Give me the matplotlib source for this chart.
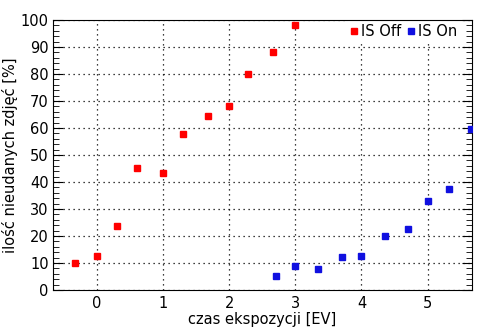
import matplotlib
matplotlib.use("Agg")
import matplotlib.pyplot as plt
from matplotlib.ticker import MultipleLocator

# IS Off
off_x = [-0.33, 0, 0.31, 0.61, 1, 1.3, 1.68, 2, 2.29, 2.66, 3]
off_y = [9.9, 12.5, 23.6, 45.2, 43.3, 57.8, 64.5, 68.2, 80.1, 88.2, 98.3]
# IS On
on_x = [2.71, 3, 3.34, 3.71, 4, 4.36, 4.7, 5, 5.32, 5.65]
on_y = [5.1, 8.8, 7.7, 12.1, 12.5, 19.9, 22.5, 32.9, 37.4, 59.7]

fig = plt.figure(figsize=(4.94, 3.31), dpi=100)
ax = fig.add_axes([0.1073, 0.1239, 0.8482, 0.8157])

ax.plot(off_x, off_y, 's', color='#ff0000', markersize=4.5, label='IS Off', zorder=3)
ax.plot(on_x, on_y, 's', color='#1010e0', markersize=4.5, label='IS On', zorder=3)

ax.set_xlim(-0.66, 5.67)
ax.set_ylim(0, 100)
ax.xaxis.set_major_locator(MultipleLocator(1))
ax.yaxis.set_major_locator(MultipleLocator(10))
ax.yaxis.set_minor_locator(MultipleLocator(2))
ax.grid(True, which='major', color='black', linestyle=(0, (1, 3)), linewidth=0.9)

ax.tick_params(axis='y', which='both', direction='in', left=True, right=True, labelsize=10.5, pad=3)
ax.tick_params(axis='y', which='major', length=7)
ax.tick_params(axis='y', which='minor', length=4)
ax.tick_params(axis='x', which='both', length=0, labelsize=10.5, pad=4)

ax.set_xlabel('czas ekspozycji [EV]', fontsize=10.5, labelpad=1)
ax.set_ylabel('ilość nieudanych zdjęć [%]', fontsize=10.5, labelpad=2)

leg = ax.legend(loc='upper right', ncol=2, frameon=True, fontsize=10.5, handletextpad=0.2,
                columnspacing=0.35, handlelength=0.6, borderaxespad=0.0, borderpad=0.3,
                bbox_to_anchor=(0.975, 1.0), markerscale=0.9, fancybox=False)
leg.get_frame().set_facecolor('white')
leg.get_frame().set_edgecolor('none')
leg.get_frame().set_alpha(1)
leg.set_zorder(2)

fig.savefig('out.png', dpi=100)
